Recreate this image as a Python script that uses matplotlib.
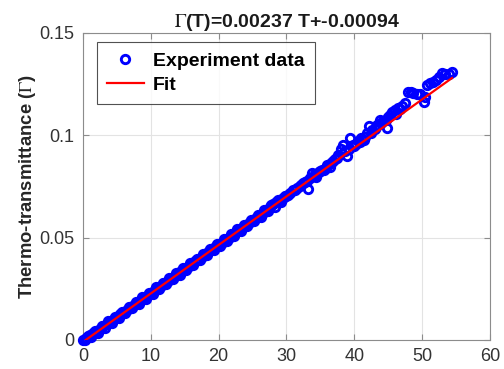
import matplotlib
matplotlib.use("Agg")
import matplotlib.pyplot as plt

plt.rcParams['font.family'] = ['Liberation Sans', 'DejaVu Sans']
plt.rcParams['mathtext.fontset'] = 'stix'

# Experiment data (temperature T, thermo-transmittance Gamma)
T_data = [
    0.0, 0.5, 1.0, 1.5, 2.0, 2.5, 3.0, 3.5, 4.0, 4.5, 5.0, 5.5, 6.0, 6.5, 7.0, 7.5,
    8.0, 8.5, 9.0, 9.5, 10.0, 10.5, 11.0, 11.5, 12.0, 12.5, 13.0, 13.5, 14.0, 14.5,
    15.0, 15.5, 16.0, 16.5, 17.0, 17.5, 18.0, 18.5, 19.0, 19.5, 20.0, 20.5, 21.0,
    21.5, 22.0, 22.5, 23.0, 23.5, 24.0, 24.5, 25.0, 25.5, 26.0, 26.5, 27.0, 27.5,
    28.0, 28.5, 29.0, 29.5, 30.0,
    0.25, 1.25, 2.25, 3.25, 4.25, 5.25, 6.25, 7.25, 8.25, 9.25, 10.25, 11.25, 12.25,
    13.25, 14.25, 15.25, 16.25, 17.25, 18.25, 19.25, 20.25, 21.25, 22.25, 23.25,
    24.25, 25.25, 26.25, 27.25, 28.25, 29.25,
    0.75, 1.75, 2.75, 3.75, 4.75, 5.75, 6.75, 7.75, 8.75, 9.75, 10.75, 11.75, 12.75,
    13.75, 14.75, 15.75, 16.75, 17.75, 18.75, 19.75, 20.75, 21.75, 22.75, 23.75,
    24.75, 25.75, 26.75, 27.75, 28.75, 29.75,
    30.5, 31.0, 31.5, 32.0, 32.4, 32.8, 33.2, 33.5, 33.7, 34.0, 34.4, 34.8, 35.2,
    35.6, 36.0, 36.4, 36.8, 37.2, 37.6, 38.1, 38.3, 38.9, 39.4, 39.8, 40.2, 40.6,
    41.0, 41.4, 41.8, 42.2, 42.6, 43.0, 43.4, 43.8, 44.2, 44.8, 45.0, 45.5, 46.0,
    46.5, 47.0, 47.5, 47.9, 48.3, 48.7, 49.2, 49.7, 50.2, 50.4, 50.7, 51.2, 51.6,
    52.0, 52.5, 52.9, 53.4, 53.9, 54.4,
    30.2, 31.2, 32.2, 33.0, 34.2, 35.0, 35.8, 36.6, 37.4, 38.6, 39.2, 40.0, 40.8,
    41.6, 42.4, 43.2, 44.0, 44.6, 45.3, 46.2, 46.8,
]
G_data = [
    0.0000, 0.0010, 0.0022, 0.0032, 0.0046, 0.0055, 0.0068, 0.0079, 0.0089, 0.0101,
    0.0112, 0.0125, 0.0138, 0.0147, 0.0160, 0.0171, 0.0181, 0.0195, 0.0206, 0.0216,
    0.0229, 0.0241, 0.0254, 0.0264, 0.0277, 0.0288, 0.0298, 0.0312, 0.0323, 0.0336,
    0.0346, 0.0359, 0.0371, 0.0385, 0.0392, 0.0405, 0.0420, 0.0428, 0.0445, 0.0452,
    0.0468, 0.0476, 0.0490, 0.0499, 0.0512, 0.0527, 0.0535, 0.0549, 0.0561, 0.0570,
    0.0585, 0.0596, 0.0606, 0.0621, 0.0633, 0.0648, 0.0663, 0.0673, 0.0684, 0.0694,
    0.0705,
    0.0000, 0.0013, 0.0036, 0.0058, 0.0084, 0.0108, 0.0130, 0.0154, 0.0178, 0.0202,
    0.0226, 0.0249, 0.0272, 0.0297, 0.0320, 0.0344, 0.0368, 0.0390, 0.0415, 0.0438,
    0.0460, 0.0485, 0.0508, 0.0532, 0.0556, 0.0579, 0.0603, 0.0632, 0.0651, 0.0675,
    0.0019, 0.0043, 0.0066, 0.0091, 0.0113, 0.0139, 0.0162, 0.0184, 0.0209, 0.0232,
    0.0257, 0.0279, 0.0304, 0.0327, 0.0350, 0.0375, 0.0398, 0.0421, 0.0446, 0.0469,
    0.0493, 0.0516, 0.0541, 0.0563, 0.0587, 0.0611, 0.0637, 0.0662, 0.0683, 0.0705,
    0.0718, 0.0731, 0.0741, 0.0752, 0.0765, 0.0771, 0.0738, 0.0790, 0.0815, 0.0803,
    0.0795, 0.0822, 0.0831, 0.0829, 0.0855, 0.0845, 0.0876, 0.0884, 0.0905, 0.0933,
    0.0953, 0.0899, 0.0985, 0.0955, 0.0960, 0.0972, 0.0985, 0.0978, 0.1010, 0.1047,
    0.1025, 0.1030, 0.1052, 0.1075, 0.1070, 0.1036, 0.1090, 0.1116, 0.1124, 0.1135,
    0.1142, 0.1156, 0.1213, 0.1212, 0.1207, 0.1203, 0.1200, 0.1161, 0.1187, 0.1246,
    0.1254, 0.1262, 0.1268, 0.1283, 0.1303, 0.1298, 0.1302, 0.1307,
    0.0707, 0.0732, 0.0758, 0.0775, 0.0812, 0.0825, 0.0842, 0.0864, 0.0890, 0.0922,
    0.0935, 0.0948, 0.0965, 0.0990, 0.1010, 0.1040, 0.1060, 0.1075, 0.1098, 0.1105,
    0.1128,
]

# Linear fit: Gamma(T) = slope*T + intercept
slope = 0.00237
intercept = -0.00094
T_fit = [0.4, 54.4]
G_fit = [slope * t + intercept for t in T_fit]

x_ticks = [0, 10, 20, 30, 40, 50, 60]
y_ticks = [0, 0.05, 0.1, 0.15]
y_ticklabels = ['0', '0.05', '0.1', '0.15']

fig = plt.figure(figsize=(5.04, 3.69), dpi=100)
ax = fig.add_axes([0.1647, 0.0786, 0.8075, 0.832])

ax.plot(T_data, G_data, linestyle='none', marker='o', markersize=6.0,
        markerfacecolor='none', markeredgecolor='#0000ff', markeredgewidth=2.1,
        label='Experiment data', zorder=3, clip_on=False)
ax.plot(T_fit, G_fit, color='#ff0000', linewidth=1.6, label='Fit', zorder=4)

ax.set_xlim(0, 60)
ax.set_ylim(0, 0.15)
ax.set_xticks(x_ticks)
ax.set_yticks(y_ticks)
ax.set_yticklabels(y_ticklabels)
ax.grid(True, color='#e3e3e3', linewidth=0.8)
ax.set_axisbelow(True)

for s in ax.spines.values():
    s.set_color('#8c8c8c')
    s.set_linewidth(0.8)
ax.tick_params(direction='in', length=4, width=0.8, color='#8c8c8c',
               labelsize=13, labelcolor='#333333', top=True, right=True, pad=6)

ax.set_ylabel(r'Thermo-transmittance ($\Gamma$)', fontsize=13.3, fontweight='bold',
              color='#262626', labelpad=1)
ax.set_title(r'$\Gamma$(T)=0.00237 T+-0.00094', fontsize=14, fontweight='bold',
             color='#1a1a1a', pad=4)

leg = ax.legend(loc='upper left', bbox_to_anchor=(0.034, 0.97),
                prop={'weight': 'bold', 'size': 14}, frameon=True, fancybox=False,
                borderpad=0.5, handlelength=1.9, handletextpad=0.5,
                labelspacing=0.35, borderaxespad=0.0)
leg.get_frame().set_edgecolor('#262626')
leg.get_frame().set_linewidth(0.8)

fig.savefig('out.png', dpi=100)
